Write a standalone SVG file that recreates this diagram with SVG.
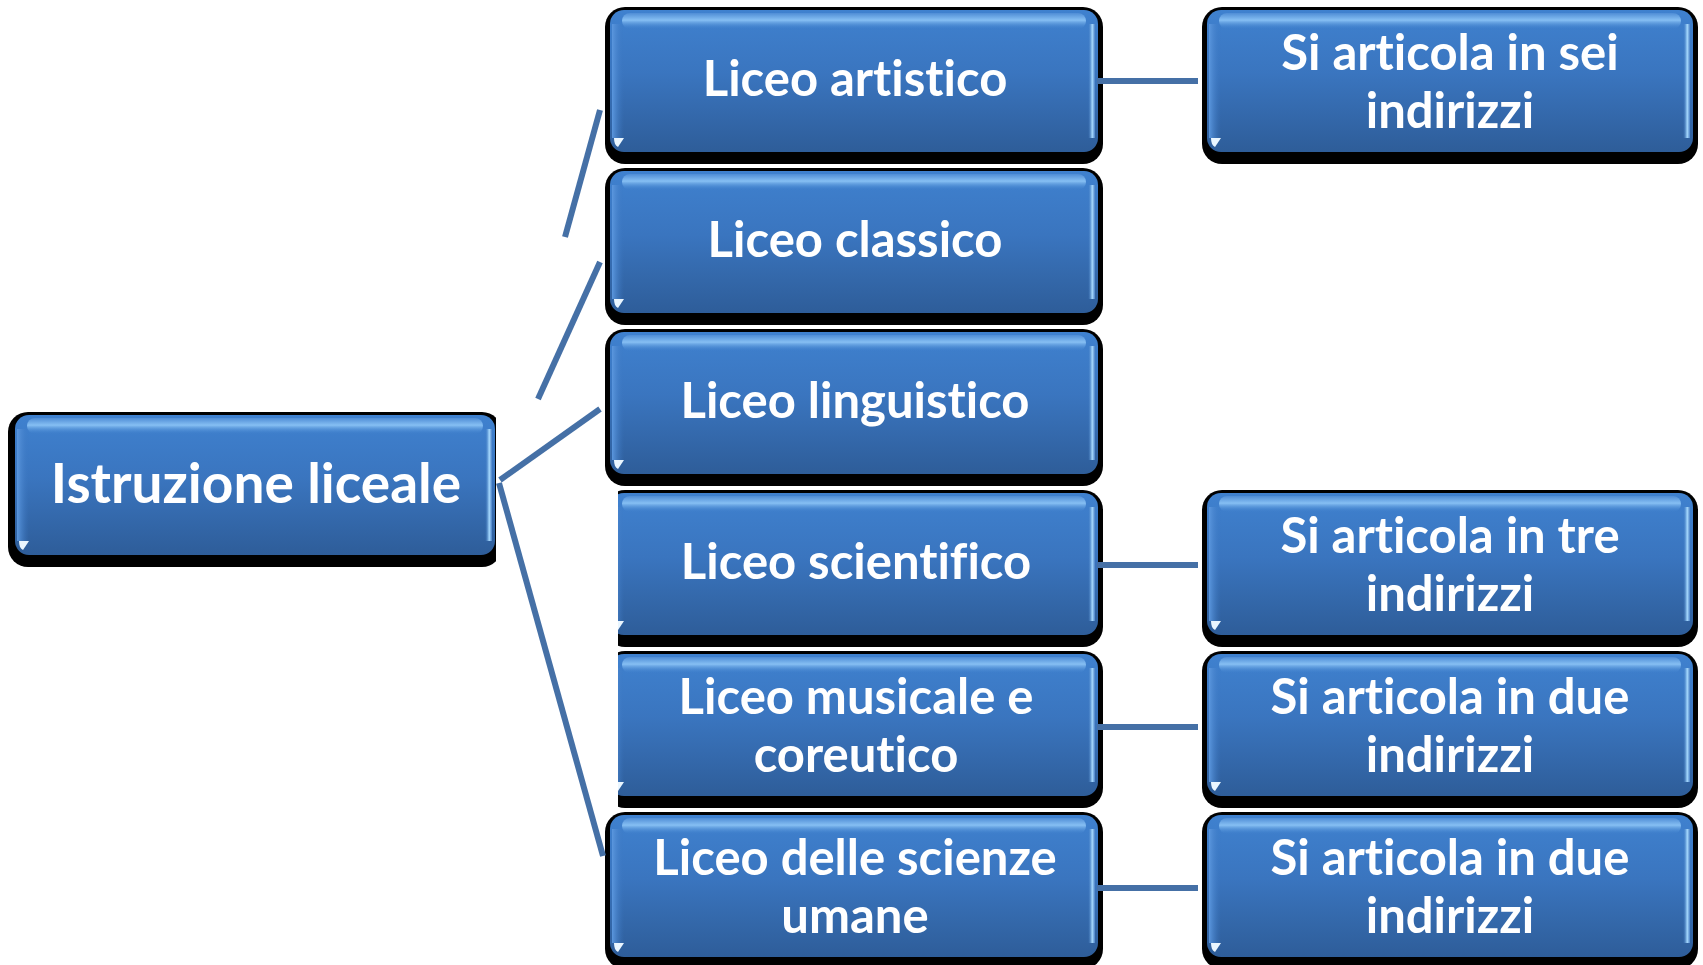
<svg xmlns="http://www.w3.org/2000/svg" width="1703" height="965" viewBox="0 0 1703 965">
<style>
.sh{fill:#000}
.body{fill:url(#bodyGrad)}
.gloss{fill:url(#glossGrad)}
.lhl{fill:url(#leftGrad)}
.rhl{fill:url(#rightGrad)}
.tri{fill:#eaf6ff}
.t{font-family:"Lato","Open Sans","Liberation Sans",sans-serif;font-weight:700;fill:#fff;text-anchor:middle;font-size:49px;font-variant-ligatures:none}
.big{font-size:55px}
.conn line{stroke:#4570a6;stroke-width:6;fill:none}
</style>
<defs>
<linearGradient id="bodyGrad" x1="0" y1="0" x2="0" y2="1">
<stop offset="0" stop-color="#3f81cf"/>
<stop offset="0.45" stop-color="#3a75bf"/>
<stop offset="1" stop-color="#2e5d99"/>
</linearGradient>
<linearGradient id="glossGrad" x1="0" y1="0" x2="0" y2="1">
<stop offset="0" stop-color="#4f8dd6"/>
<stop offset="0.45" stop-color="#86bff3"/>
<stop offset="1" stop-color="#4585d0" stop-opacity="0"/>
</linearGradient>
<linearGradient id="leftGrad" x1="0" y1="0" x2="1" y2="0">
<stop offset="0" stop-color="#5b97de"/>
<stop offset="1" stop-color="#3b76c0" stop-opacity="0"/>
</linearGradient>
<linearGradient id="rightGrad" x1="0" y1="0" x2="1" y2="0">
<stop offset="0" stop-color="#3b76c0" stop-opacity="0"/>
<stop offset="0.6" stop-color="#a8dbff"/>
<stop offset="1" stop-color="#4a80c6"/>
</linearGradient>
<clipPath id="clipRoot"><rect x="0" y="380" width="496" height="200"/></clipPath>
<clipPath id="clipLeft"><rect x="618" y="480" width="500" height="340"/></clipPath>
</defs>

<g id="n0" clip-path="url(#clipRoot)">
<rect class="sh" x="8" y="412" width="494" height="155" rx="20"/>
<rect class="body" x="15" y="415" width="480" height="140" rx="14"/>
<rect class="gloss" x="27" y="418" width="456" height="16" rx="8"/>
<rect class="lhl" x="17" y="429" width="12" height="112"/>
<rect class="rhl" x="485" y="429" width="7" height="112"/>
<path class="tri" d="M19 541 h10 l-6 9 q-4 -2 -4 -9 z"/>
<text class="t big" x="256" y="503">Istruzione liceale</text>
</g>

<g id="n1">
<rect class="sh" x="605" y="7" width="498" height="157" rx="20"/>
<rect class="body" x="610" y="10" width="488" height="142" rx="14"/>
<rect class="gloss" x="622" y="13" width="464" height="16" rx="8"/>
<rect class="lhl" x="612" y="24" width="12" height="114"/>
<rect class="rhl" x="1088" y="24" width="7" height="114"/>
<path class="tri" d="M614 138 h10 l-6 9 q-4 -2 -4 -9 z"/>
<text class="t" x="855" y="96">Liceo artistico</text>
</g>

<g id="n2">
<rect class="sh" x="605" y="168" width="498" height="157" rx="20"/>
<rect class="body" x="610" y="171" width="488" height="142" rx="14"/>
<rect class="gloss" x="622" y="174" width="464" height="16" rx="8"/>
<rect class="lhl" x="612" y="185" width="12" height="114"/>
<rect class="rhl" x="1088" y="185" width="7" height="114"/>
<path class="tri" d="M614 299 h10 l-6 9 q-4 -2 -4 -9 z"/>
<text class="t" x="855" y="257">Liceo classico</text>
</g>

<g id="n3">
<rect class="sh" x="605" y="329" width="498" height="157" rx="20"/>
<rect class="body" x="610" y="332" width="488" height="142" rx="14"/>
<rect class="gloss" x="622" y="335" width="464" height="16" rx="8"/>
<rect class="lhl" x="612" y="346" width="12" height="114"/>
<rect class="rhl" x="1088" y="346" width="7" height="114"/>
<path class="tri" d="M614 460 h10 l-6 9 q-4 -2 -4 -9 z"/>
<text class="t" x="855" y="418">Liceo linguistico</text>
</g>

<g id="n4" clip-path="url(#clipLeft)">
<rect class="sh" x="605" y="490" width="498" height="157" rx="20"/>
<rect class="body" x="610" y="493" width="488" height="142" rx="14"/>
<rect class="gloss" x="622" y="496" width="464" height="16" rx="8"/>
<rect class="lhl" x="612" y="507" width="12" height="114"/>
<rect class="rhl" x="1088" y="507" width="7" height="114"/>
<path class="tri" d="M614 621 h10 l-6 9 q-4 -2 -4 -9 z"/>
<text class="t" x="856" y="579">Liceo scientifico</text>
</g>

<g id="n5" clip-path="url(#clipLeft)">
<rect class="sh" x="605" y="651" width="498" height="157" rx="20"/>
<rect class="body" x="610" y="654" width="488" height="142" rx="14"/>
<rect class="gloss" x="622" y="657" width="464" height="16" rx="8"/>
<rect class="lhl" x="612" y="668" width="12" height="114"/>
<rect class="rhl" x="1088" y="668" width="7" height="114"/>
<path class="tri" d="M614 782 h10 l-6 9 q-4 -2 -4 -9 z"/>
<text class="t" x="856" y="714">Liceo musicale e</text>
<text class="t" x="856" y="772">coreutico</text>
</g>

<g id="n6">
<rect class="sh" x="605" y="812" width="498" height="157" rx="20"/>
<rect class="body" x="610" y="815" width="488" height="142" rx="14"/>
<rect class="gloss" x="622" y="818" width="464" height="16" rx="8"/>
<rect class="lhl" x="612" y="829" width="12" height="114"/>
<rect class="rhl" x="1088" y="829" width="7" height="114"/>
<path class="tri" d="M614 943 h10 l-6 9 q-4 -2 -4 -9 z"/>
<text class="t" x="855" y="875">Liceo delle scienze</text>
<text class="t" x="855" y="933">umane</text>
</g>

<g id="r1">
<rect class="sh" x="1202" y="7" width="496" height="157" rx="20"/>
<rect class="body" x="1207" y="10" width="486" height="142" rx="14"/>
<rect class="gloss" x="1219" y="13" width="462" height="16" rx="8"/>
<rect class="lhl" x="1209" y="24" width="12" height="114"/>
<rect class="rhl" x="1683" y="24" width="7" height="114"/>
<path class="tri" d="M1211 138 h10 l-6 9 q-4 -2 -4 -9 z"/>
<text class="t" x="1450" y="70">Si articola in sei</text>
<text class="t" x="1450" y="128">indirizzi</text>
</g>

<g id="r4">
<rect class="sh" x="1202" y="490" width="496" height="157" rx="20"/>
<rect class="body" x="1207" y="493" width="486" height="142" rx="14"/>
<rect class="gloss" x="1219" y="496" width="462" height="16" rx="8"/>
<rect class="lhl" x="1209" y="507" width="12" height="114"/>
<rect class="rhl" x="1683" y="507" width="7" height="114"/>
<path class="tri" d="M1211 621 h10 l-6 9 q-4 -2 -4 -9 z"/>
<text class="t" x="1450" y="553">Si articola in tre</text>
<text class="t" x="1450" y="611">indirizzi</text>
</g>

<g id="r5">
<rect class="sh" x="1202" y="651" width="496" height="157" rx="20"/>
<rect class="body" x="1207" y="654" width="486" height="142" rx="14"/>
<rect class="gloss" x="1219" y="657" width="462" height="16" rx="8"/>
<rect class="lhl" x="1209" y="668" width="12" height="114"/>
<rect class="rhl" x="1683" y="668" width="7" height="114"/>
<path class="tri" d="M1211 782 h10 l-6 9 q-4 -2 -4 -9 z"/>
<text class="t" x="1450" y="714">Si articola in due</text>
<text class="t" x="1450" y="772">indirizzi</text>
</g>

<g id="r6">
<rect class="sh" x="1202" y="812" width="496" height="157" rx="20"/>
<rect class="body" x="1207" y="815" width="486" height="142" rx="14"/>
<rect class="gloss" x="1219" y="818" width="462" height="16" rx="8"/>
<rect class="lhl" x="1209" y="829" width="12" height="114"/>
<rect class="rhl" x="1683" y="829" width="7" height="114"/>
<path class="tri" d="M1211 943 h10 l-6 9 q-4 -2 -4 -9 z"/>
<text class="t" x="1450" y="875">Si articola in due</text>
<text class="t" x="1450" y="933">indirizzi</text>
</g>

<g id="connectors" class="conn">
<line x1="500" y1="480" x2="600" y2="409"/>
<line x1="499" y1="483" x2="603" y2="856"/>
<line x1="565" y1="237" x2="600" y2="110"/>
<line x1="538" y1="399" x2="600" y2="262"/>
<line x1="1097" y1="81" x2="1198" y2="81"/>
<line x1="1097" y1="565" x2="1198" y2="565"/>
<line x1="1097" y1="727" x2="1198" y2="727"/>
<line x1="1097" y1="888" x2="1198" y2="888"/>
</g>
</svg>
